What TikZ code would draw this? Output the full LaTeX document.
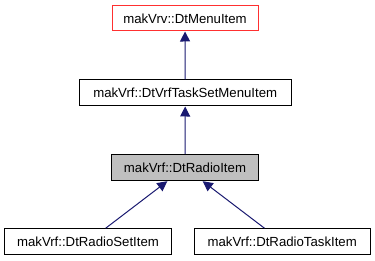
\documentclass[tikz,border=0pt]{standalone}
\usepackage{fontspec}
\setmainfont{Liberation Sans}
\usetikzlibrary{arrows.meta}
\definecolor{edgeblue}{HTML}{191970}
\definecolor{boxred}{HTML}{FF3030}
\definecolor{boxgray}{HTML}{BFBFBF}
\begin{document}
\begin{tikzpicture}[x=1pt,y=-1pt,
  cls/.style={draw=black,line width=1pt,fill=white,rectangle,inner sep=0pt,minimum height=26pt,font=\fontsize{13.2pt}{15pt}\selectfont},
  inh/.style={draw=edgeblue,line width=1pt,-{Triangle[length=10pt,width=10pt]}}]
\useasboundingbox (0,0) rectangle (375,261);
\node[cls,draw=boxred,minimum width=146pt,minimum height=25pt] (menu) at (185,18.5) {makVrv::DtMenuItem};
\node[cls,minimum width=212pt] (taskset) at (185.2,93) {makVrf::DtVrfTaskSetMenuItem};
\node[cls,fill=boxgray,minimum width=146.6pt] (radio) at (185,167.7) {makVrf::DtRadioItem};
\node[cls,minimum width=167.4pt] (setitem) at (88,241.7) {makVrf::DtRadioSetItem};
\node[cls,minimum width=175.7pt] (taskitem) at (282.2,241.7) {makVrf::DtRadioTaskItem};
\draw[inh] (taskset) -- (menu);
\draw[inh] (radio) -- (taskset);
\draw[inh] (setitem) -- (radio);
\draw[inh] (taskitem) -- (radio);
\end{tikzpicture}
\end{document}
